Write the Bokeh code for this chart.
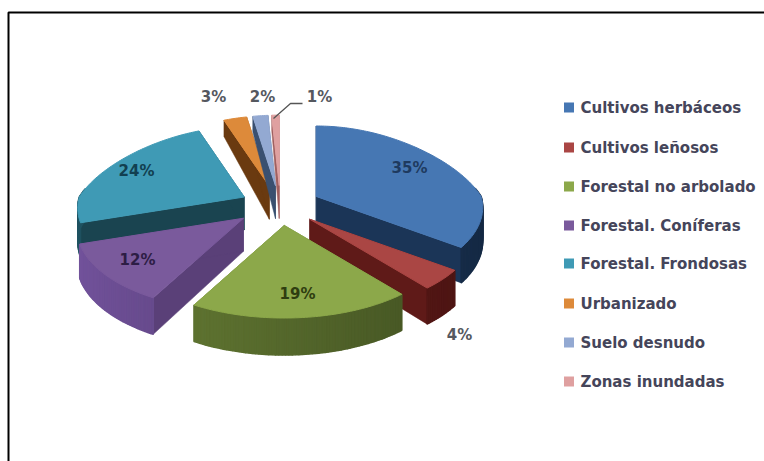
import math
from bokeh.plotting import figure
from bokeh.embed import file_html
from bokeh.resources import INLINE
from bokeh.core.properties import value

categories = ["Cultivos herbáceos", "Cultivos leñosos", "Forestal no arbolado", "Forestal. Coníferas",
              "Forestal. Frondosas", "Urbanizado", "Suelo desnudo", "Zonas inundadas"]
percent = [35, 4, 19, 12, 24, 3, 2, 1]
top_colors = ["#4677b3", "#aa4644", "#8ca84a", "#7a5a9c", "#3f9ab5", "#dd8a3a", "#93a9d2", "#dfa0a0"]
cut_colors = ["#1b3557", "#5f1a18", "#5c7030", "#5a4078", "#1a4450", "#6a3a10", "#3a5070", "#a06060"]
band_colors = ["#1b3557", "#5f1a18", "#55682c", "#5e4480", "#1a4450", "#6a3a10", "#3a5070", "#a06060"]
label_colors = ["#1e3a5f", "#55585f", "#2f3d10", "#2d1d45", "#123f50", "#55585f", "#55585f", "#55585f"]
label_pos = [(409, 167), (459, 334), (297, 293), (137, 259), (136, 170), (213, 96), (262, 96), (319, 96)]
legend_rows = [107, 147, 186, 225, 263, 303, 342, 381]
explode_x = [40, 40, 40, 48, 40, 40, 40, 40]

CX, CY, RX, RY, K = 280, 205, 165, 80, 0.136

p = figure(width=764, height=461, x_range=(0, 764), y_range=(461, 0), output_backend="svg",
           toolbar_location=None, min_border=0, outline_line_color=None, background_fill_color="white")
p.axis.visible = False
p.grid.visible = False


def project(ax, ay, deg):
    a = math.radians(deg)
    u, v = math.sin(a), -math.cos(a)
    s = 1 / (1 - K * v)
    narrow = 1 + 0.17 * v if v < 0 else 1
    return ax + RX * u * s * narrow, ay + RY * v * s, v


def depth(v):
    return 33 + (4 * v if v > 0 else 18 * v)


def poly(pts, color, lw=0.5):
    p.patch([q[0] for q in pts], [q[1] for q in pts], fill_color=color, line_color=color, line_width=lw)


def shade(color, f):
    rgb = [int(color[j:j + 2], 16) for j in (1, 3, 5)]
    return "#" + "".join(f"{min(255, int(c * f)):02x}" for c in rgb)


slices = []
start = 0.0
for i, pct in enumerate(percent):
    end = start + pct * 3.6
    mid = math.radians((start + end) / 2)
    slices.append((i, start, end, CX + explode_x[i] * math.sin(mid), CY - 20 * math.cos(mid)))
    start = end

for i in [5, 6, 7, 4, 3, 0, 1, 2]:
    _, a0, a1, ax, ay = slices[i]
    n = max(4, int(a1 - a0))
    angles = [a0 + (a1 - a0) * j / n for j in range(n + 1)]
    arc = [project(ax, ay, d) for d in angles]
    for e in (arc[0], arc[-1]):
        poly([(ax, ay), (e[0], e[1]), (e[0], e[1] + depth(e[2])), (ax, ay + 33)], cut_colors[i])
    for j in range(n):
        q0, q1 = arc[j], arc[j + 1]
        if q0[2] < -0.1 and q1[2] < -0.1:
            continue
        f = 1 - 0.22 * math.sin(math.radians(angles[j]))
        poly([(q0[0], q0[1]), (q1[0], q1[1]), (q1[0], q1[1] + depth(q1[2])), (q0[0], q0[1] + depth(q0[2]))],
             shade(band_colors[i], f), lw=1.5)
    poly([(ax, ay)] + [(q[0], q[1]) for q in arc], top_colors[i], lw=1)

leader_x = [273, 290, 302]
leader_y = [118, 103, 103]
p.line(leader_x, leader_y, line_color="#555555", line_width=1.3)

p.text([q[0] for q in label_pos], [q[1] for q in label_pos], text=[f"{v}%" for v in percent],
       text_font=value("DejaVu Sans"), text_font_size="15px", text_font_style="bold", text_color=label_colors,
       text_align="center", text_baseline="middle")

p.scatter([568.5] * 8, legend_rows, marker="square", size=10, fill_color=top_colors, line_color=None)
p.text([580] * 8, legend_rows, text=categories, text_font=value("DejaVu Sans"), text_font_size="15px",
       text_font_style="bold", text_color="#45455a", text_align="left", text_baseline="middle")

frame_x = [8, 8, 764]
frame_y = [461, 12, 12]
p.line(frame_x, frame_y, line_color="black", line_width=2)

open("out.html", "w").write(file_html(p, INLINE))
